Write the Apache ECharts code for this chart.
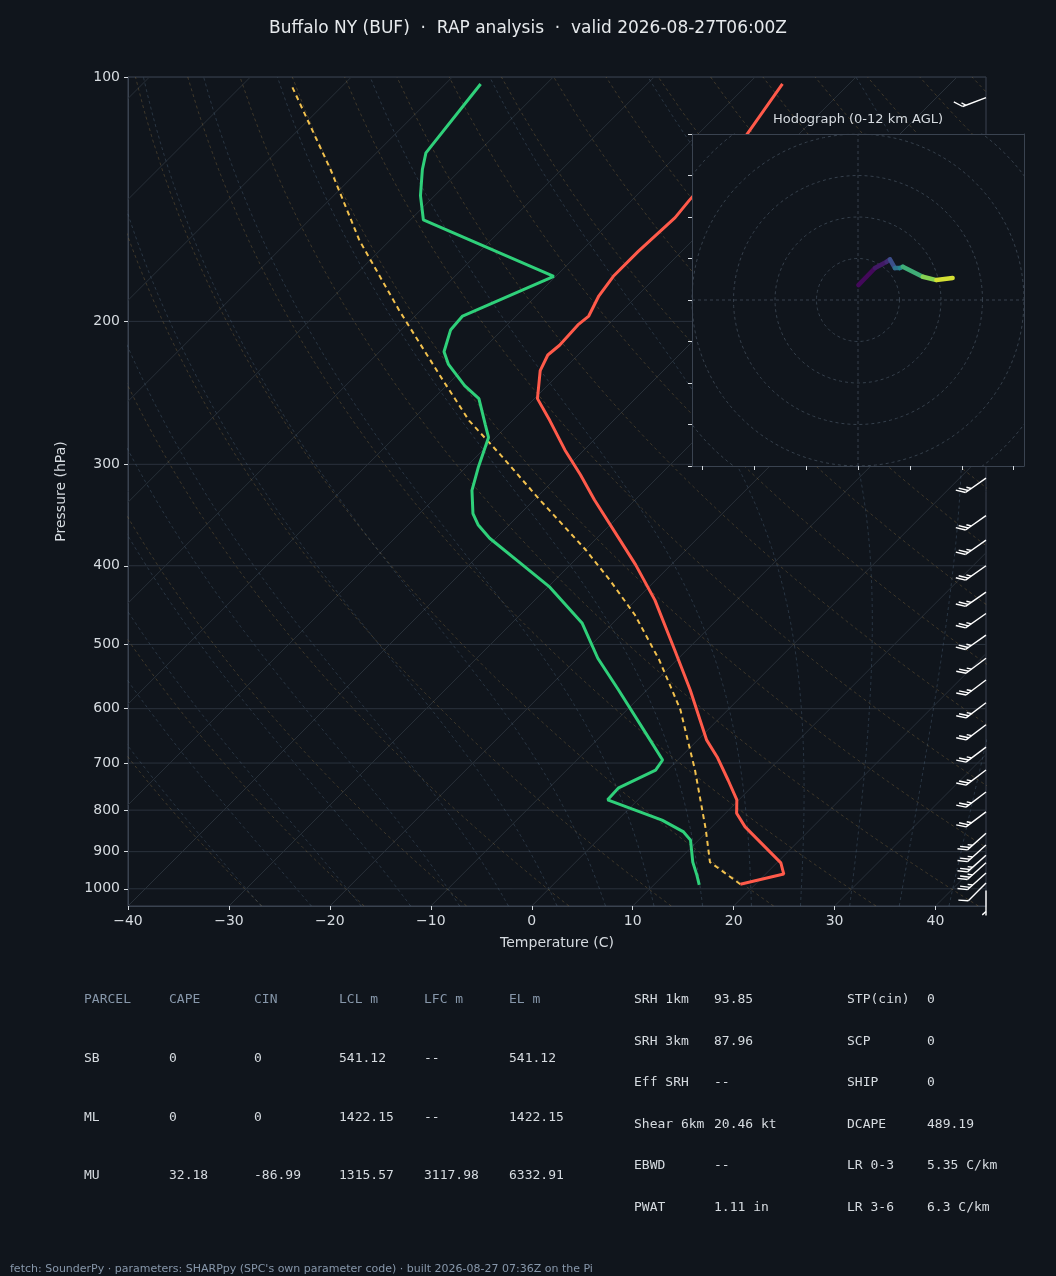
<!DOCTYPE html>
<html><head><meta charset="utf-8">
<script src="https://cdn.jsdelivr.net/npm/echarts@6/dist/echarts.min.js"></script>
<style>html,body{margin:0;padding:0;background:#10151c}#c{width:1056px;height:1276px}</style>
</head><body><div id="c"></div>
<script>
// ---------- data ----------
const tempP = [987,959,929,839,807,777,735,688,656,569,508,441,399,372,332,309,288,265,249,230,220,214,202,197,186,176,164,149,142,118,102];
const tempT = [18.5,21.8,20.4,13.3,11.1,9.8,7.0,3.6,0.9,-5.7,-11.2,-18.1,-23.5,-27.5,-34.0,-37.9,-41.9,-46.3,-49.7,-52.2,-53.0,-52.8,-53.0,-52.8,-53.8,-54.3,-54.3,-54.0,-54.3,-55.1,-56.6];
const dwptP = [989,962,927,871,851,823,777,751,714,694,656,569,520,471,425,397,370,356,345,323,302,278,268,249,240,226,218,205,197,176,150,140,130,124,102];
const dwptT = [14.5,13.3,11.6,9.2,7.7,4.4,-3.0,-3.1,-1.2,-1.5,-4.7,-12.8,-18.0,-23.0,-29.8,-35.1,-40.6,-43.1,-44.7,-47.1,-48.8,-50.7,-52.3,-55.5,-58.2,-61.9,-63.6,-65.1,-65.3,-60.2,-78.7,-81.4,-83.8,-85.1,-86.5];
const parcelP = [987,927,846,714,602,523,460,417,382,332,292,265,233,194,159,130,102];
const parcelT = [18.5,13.3,9.7,2.7,-4.7,-11.7,-18.6,-24.5,-30.0,-39.4,-47.8,-54.3,-61.7,-72.1,-83.0,-92.9,-105.3];
const barbP = [106,312,347,372,400,431,458,487,520,553,590,628,669,714,760,804,854,883,909,929,956,984,1005];
const barbSpd = [15,25,25,25,25,25,25,25,25,25,25,25,25,25,25,25,25,25,25,25,25,10,5];
const barbDir = [249,235,235,235,235,235,235,235,233,233,233,233,233,233,233,233,228,228,228,228,228,225,180];
const hodoU = [0.1,4.1,6.9,7.7,8.9,10.1,10.8,15.6,18.9,22.8];
const hodoV = [3.6,7.7,9.2,9.8,7.7,7.7,8.0,5.6,4.8,5.3];
const hodoH = [0,0.6,1.2,1.8,4,5,6,9,10.5,12];
const tempTicks = [-40,-30,-20,-10,0,10,20,30,40];
const presTicks = [100,200,300,400,500,600,700,800,900,1000];
const title = 'Buffalo NY (BUF)  \u00b7  RAP analysis  \u00b7  valid 2026-08-27T06:00Z';
const parcelHead = ['PARCEL','CAPE','CIN','LCL m','LFC m','EL m'];
const parcelRows = [['SB','0','0','541.12','--','541.12'],['ML','0','0','1422.15','--','1422.15'],['MU','32.18','-86.99','1315.57','3117.98','6332.91']];
const idxA = [['SRH 1km','93.85'],['SRH 3km','87.96'],['Eff SRH','--'],['Shear 6km','20.46 kt'],['EBWD','--'],['PWAT','1.11 in']];
const idxB = [['STP(cin)','0'],['SCP','0'],['SHIP','0'],['DCAPE','489.19'],['LR 0-3','5.35 C/km'],['LR 3-6','6.3 C/km']];
const footer = "fetch: SounderPy \u00b7 parameters: SHARPpy (SPC's own parameter code) \u00b7 built 2026-08-27 07:36Z on the Pi";

// ---------- skew-T transform (45 deg skew) ----------
const PB = 1050, SK = 85 / Math.log10(PB / 100) * (829 / 858);
function sx(T, p) { return T + SK * Math.log10(PB / p); }
const prof = (P, T) => P.map((p, i) => [sx(T[i], p), p]);

// background reference lines
const levels = []; for (let p = 1050; p >= 100; p -= 10) levels.push(p);
const iso = [];
for (let T = -130; T <= 40; T += 10) { iso.push([sx(T, 1050), 1050], [sx(T, 100), 100], [null, null]); }
const dry = [];
for (let th = 243; th <= 473; th += 10) { levels.forEach(p => dry.push([sx(th * Math.pow(p / 1000, 0.2857) - 273.15, p), p])); dry.push([null, null]); }
function gamma(T, p) {
  const Tc = T - 273.15, es = 6.112 * Math.exp(17.67 * Tc / (Tc + 243.5)), rs = 0.622 * es / (p - es);
  const Lv = 2.501e6, Rd = 287.04, Cp = 1005.7;
  return (Rd * T + Lv * rs) / (p * (Cp + Lv * Lv * rs * 0.622 / (Rd * T * T)));
}
const moist = [];
for (let t0 = -30; t0 <= 45; t0 += 5) {
  const up = []; let T = t0 + 273.15;
  for (let p = 1000; p >= 100; p -= 5) { up.push([sx(T - 273.15, p), p]); T -= gamma(T, p) * 5; }
  T = t0 + 273.15; const dn = [];
  for (let p = 1000; p <= 1050; p += 5) { dn.unshift([sx(T - 273.15, p), p]); T += gamma(T, p) * 5; }
  dn.pop(); dn.concat(up).forEach(d => moist.push(d)); moist.push([null, null]);
}
const isob = []; presTicks.forEach(p => isob.push([-40, p], [45, p], [null, null]));
const rings = [];
for (let r = 10; r <= 60; r += 10) { for (let a = 0; a <= 360; a += 3) rings.push([r * Math.cos(a * Math.PI / 180), r * Math.sin(a * Math.PI / 180)]); rings.push([null, null]); }
rings.push([-40, 0], [40, 0], [null, null], [0, -40], [0, 40]);

const BG = '#10151c', AX = '#3a4350', TXT = '#d6dbe0', MONO = 'DejaVu Sans Mono';
const lineS = (data, color, type, w, z) => ({ type: 'line', xAxisIndex: 0, yAxisIndex: 0, data, symbol: 'none', silent: true, connectNulls: false, clip: true, z: z || 1, lineStyle: { color, type, width: w } });

// barbs
const barbData = barbP.map((p, i) => [45, p, barbSpd[i], barbDir[i]]);
function renderBarb(params, api) {
  const pt = api.coord([api.value(0), api.value(1)]);
  const spd = api.value(2), dir = api.value(3) * Math.PI / 180;
  const L = 25;
  const s = [Math.sin(dir), -Math.cos(dir)];
  const tx = pt[0] + s[0] * L, ty = pt[1] + s[1] * L;
  const perp = [-s[1], s[0]];
  const f = [perp[0] * 0.75 + s[0] * 0.66, perp[1] * 0.75 + s[1] * 0.66];
  const st = { stroke: '#ffffff', lineWidth: 1.4 };
  const children = [{ type: 'line', shape: { x1: pt[0], y1: pt[1], x2: tx, y2: ty }, style: st }];
  let n = Math.floor(spd / 10), half = (spd % 10) >= 5 ? 1 : 0, pos = 0;
  for (let k = 0; k < n; k++) {
    const bx = tx - s[0] * pos, by = ty - s[1] * pos;
    children.push({ type: 'line', shape: { x1: bx, y1: by, x2: bx + f[0] * 10, y2: by + f[1] * 10 }, style: st });
    pos += 3.5;
  }
  if (half) {
    if (n === 0) pos = 4;
    const bx = tx - s[0] * pos, by = ty - s[1] * pos;
    children.push({ type: 'line', shape: { x1: bx, y1: by, x2: bx + f[0] * 5, y2: by + f[1] * 5 }, style: st });
  }
  return { type: 'group', children };
}

// hodograph coloured segments (viridis by height)
const VIR = [[68,1,84],[59,82,139],[33,145,140],[94,201,98],[253,231,37]];
function viridis(t) {
  t = Math.max(0, Math.min(1, t)) * 4; const i = Math.min(3, Math.floor(t)), f = t - i;
  const c = VIR[i].map((v, k) => Math.round(v + (VIR[i + 1][k] - v) * f)); return 'rgb(' + c.join(',') + ')';
}
const hodoSeg = [];
for (let i = 1; i < hodoU.length; i++) hodoSeg.push([hodoU[i - 1], hodoV[i - 1], hodoU[i], hodoV[i], (hodoH[i - 1] + hodoH[i]) / 2]);
function renderHodo(params, api) {
  const a = api.coord([api.value(0), api.value(1)]), b = api.coord([api.value(2), api.value(3)]);
  return { type: 'line', shape: { x1: a[0], y1: a[1], x2: b[0], y2: b[1] }, style: { stroke: viridis(api.value(4) / 12), lineWidth: 4.5, lineCap: 'round' } };
}

const graphics = [
  { type: 'rect', shape: { x: 692, y: 134, width: 332, height: 332 }, style: { fill: BG }, z: 50 },
  { type: 'text', x: 858, y: 120, style: { text: 'Hodograph (0-12 km AGL)', fill: TXT, font: '13px DejaVu Sans', textAlign: 'center', textVerticalAlign: 'middle' }, z: 50 }
];
const colX = [84, 169, 254, 339, 424, 509];
const mono = '13px ' + MONO;
parcelHead.forEach((t, i) => graphics.push({ type: 'text', x: colX[i], y: 1000, style: { text: t, fill: '#8797aa', font: mono, textVerticalAlign: 'middle' } }));
parcelRows.forEach((r, j) => r.forEach((t, i) => graphics.push({ type: 'text', x: colX[i], y: 1059 + j * 58.5, style: { text: t, fill: TXT, font: mono, textVerticalAlign: 'middle' } })));
idxA.forEach((r, j) => { graphics.push({ type: 'text', x: 634, y: 1000 + j * 41.5, style: { text: r[0], fill: TXT, font: mono, textVerticalAlign: 'middle' } }); graphics.push({ type: 'text', x: 714, y: 1000 + j * 41.5, style: { text: r[1], fill: TXT, font: mono, textVerticalAlign: 'middle' } }); });
idxB.forEach((r, j) => { graphics.push({ type: 'text', x: 847, y: 1000 + j * 41.5, style: { text: r[0], fill: TXT, font: mono, textVerticalAlign: 'middle' } }); graphics.push({ type: 'text', x: 927, y: 1000 + j * 41.5, style: { text: r[1], fill: TXT, font: mono, textVerticalAlign: 'middle' } }); });
graphics.push({ type: 'text', x: 10, y: 1269, style: { text: footer, fill: '#8797aa', font: '11px DejaVu Sans', textVerticalAlign: 'middle' } });

const chart = echarts.init(document.getElementById('c'), null, { renderer: 'canvas' });
chart.setOption({
  backgroundColor: BG,
  animation: false,
  title: { text: title, left: 'center', top: 15, textStyle: { color: '#e6e9ec', fontSize: 17, fontWeight: 'normal', fontFamily: 'DejaVu Sans' } },
  graphic: graphics,
  grid: [
    { left: 128, right: 70, top: 77, bottom: 370, show: true, borderColor: AX, borderWidth: 1, backgroundColor: 'transparent' },
    { left: 692, top: 134, width: 332, height: 332, show: false }
  ],
  xAxis: [
    { type: 'value', gridIndex: 0, min: -40, max: 45, interval: 10, name: 'Temperature (C)', nameLocation: 'middle', nameGap: 30, nameTextStyle: { color: TXT, fontSize: 14, fontFamily: 'DejaVu Sans' },
      axisLine: { onZero: false, lineStyle: { color: AX } }, axisTick: { show: true, length: 4, lineStyle: { color: TXT } }, splitLine: { show: false },
      axisLabel: { color: TXT, fontSize: 14, fontFamily: 'DejaVu Sans', showMaxLabel: false, formatter: v => String(v).replace('-', '\u2212') } },
    { type: 'value', gridIndex: 1, min: -40, max: 40, z: 60, axisLine: { onZero: false, lineStyle: { color: AX } }, splitLine: { show: false }, axisLabel: { show: false },
      axisTick: { show: true, length: 4, lineStyle: { color: TXT }, customValues: [-37.5, -25, -12.5, 0, 12.5, 25, 37.5] } },
    { type: 'value', gridIndex: 1, min: -40, max: 40, position: 'top', z: 60, axisLine: { onZero: false, lineStyle: { color: AX } }, splitLine: { show: false }, axisLabel: { show: false }, axisTick: { show: false } }
  ],
  yAxis: [
    { type: 'log', gridIndex: 0, logBase: 10, min: 100, max: 1050, inverse: true, name: 'Pressure (hPa)', nameLocation: 'middle', nameGap: 60, nameRotate: 90, nameTextStyle: { color: TXT, fontSize: 14, fontFamily: 'DejaVu Sans' },
      axisLine: { onZero: false, lineStyle: { color: AX } }, splitLine: { show: false }, minorTick: { show: false },
      axisTick: { show: true, length: 4, lineStyle: { color: TXT }, customValues: presTicks },
      axisLabel: { color: TXT, fontSize: 14, fontFamily: 'DejaVu Sans', customValues: presTicks, formatter: v => String(Math.round(v)) } },
    { type: 'value', gridIndex: 1, min: -40, max: 40, interval: 10, z: 60, axisLine: { onZero: false, lineStyle: { color: AX } }, splitLine: { show: false }, axisLabel: { show: false }, axisTick: { show: true, length: 4, lineStyle: { color: TXT } } },
    { type: 'value', gridIndex: 1, min: -40, max: 40, position: 'right', z: 60, axisLine: { onZero: false, lineStyle: { color: AX } }, splitLine: { show: false }, axisLabel: { show: false }, axisTick: { show: false } }
  ],
  series: [
    lineS(isob, '#2a323d', 'solid', 1, 1),
    lineS(iso, '#283039', 'solid', 1, 1),
    lineS(dry, 'rgba(150,120,70,0.35)', [3, 3], 1, 1),
    lineS(moist, 'rgba(90,115,140,0.35)', [3, 3], 1, 1),
    lineS(prof(parcelP, parcelT), '#f2c14e', [5, 4], 2, 3),
    lineS(prof(dwptP, dwptT), '#2fd07a', 'solid', 3, 3),
    lineS(prof(tempP, tempT), '#ff5a4a', 'solid', 3, 3),
    { type: 'custom', xAxisIndex: 0, yAxisIndex: 0, data: barbData, renderItem: renderBarb, z: 4, silent: true, clip: false },
    { type: 'line', xAxisIndex: 1, yAxisIndex: 1, data: rings, symbol: 'none', silent: true, clip: true, z: 55, lineStyle: { color: '#36404c', type: [3, 3], width: 1 } },
    { type: 'custom', xAxisIndex: 1, yAxisIndex: 1, data: hodoSeg, renderItem: renderHodo, z: 58, silent: true }
  ]
});
</script></body></html>
